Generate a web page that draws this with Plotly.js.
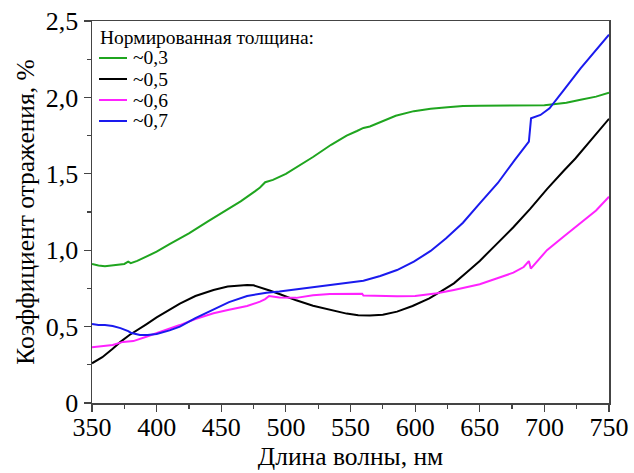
<!DOCTYPE html>
<html>
<head>
<meta charset="utf-8">
<script src="https://cdn.plot.ly/plotly-3.0.1.min.js"></script>
<style>html,body{margin:0;padding:0;background:#fff;}#chart{width:634px;height:473px;}</style>
</head>
<body>
<div id="chart"></div>
<script>
// ~0,3
var x03 = [350,355,360,365,370,375,378,380,385,390,400,410,425,440,450,465,476,480,484,490,500,510,521,535,547,555,560,565,573,585,599,612,625,637,650,670,689,700,707,717,728,740,750];
var y03 = [0.91,0.90,0.895,0.90,0.905,0.91,0.925,0.915,0.93,0.95,0.99,1.04,1.11,1.19,1.24,1.32,1.385,1.41,1.445,1.46,1.50,1.55,1.61,1.69,1.75,1.78,1.80,1.81,1.84,1.88,1.91,1.925,1.935,1.943,1.946,1.947,1.945,1.948,1.955,1.965,1.985,2.005,2.03];
// ~0,5
var x05 = [350,358,366,372,379,386,392,400,410,418,430,444,455,465,470,475,480,488,496,508,521,534,547,556,565,575,586,598,611,620,630,640,650,663,676,689,702,715,724,737,750];
var y05 = [0.26,0.30,0.355,0.40,0.445,0.48,0.515,0.56,0.61,0.65,0.70,0.74,0.762,0.772,0.773,0.77,0.757,0.735,0.71,0.672,0.637,0.61,0.585,0.575,0.572,0.578,0.598,0.635,0.685,0.73,0.783,0.855,0.93,1.04,1.15,1.27,1.40,1.52,1.60,1.73,1.86];
// ~0,6
var x06 = [350,358,366,374,382,392,405,418,430,444,456,470,480,484,487,495,508,521,534,547,559,560,572,586,600,617,630,640,650,663,676,684,688,689.5,695,702,715,728,740,750];
var y06 = [0.365,0.37,0.38,0.40,0.405,0.434,0.47,0.51,0.55,0.587,0.61,0.635,0.663,0.68,0.70,0.69,0.688,0.705,0.713,0.715,0.715,0.703,0.70,0.698,0.70,0.718,0.74,0.76,0.777,0.815,0.853,0.89,0.929,0.88,0.935,1.00,1.09,1.176,1.26,1.35];
// ~0,7
var x07 = [350,355,360,366,372,376,378,380,387,393,400,410,418,430,444,456,470,485,495,508,521,534,547,560,573,586,599,612,624,637,650,664,677,688,689.7,697,704,710,715,728,740,750];
var y07 = [0.517,0.51,0.51,0.504,0.49,0.48,0.47,0.46,0.445,0.445,0.452,0.475,0.50,0.555,0.613,0.66,0.70,0.722,0.73,0.744,0.757,0.77,0.783,0.80,0.831,0.87,0.925,0.995,1.078,1.18,1.307,1.44,1.59,1.71,1.863,1.885,1.929,1.99,2.048,2.19,2.31,2.41];

var seriesNames = ['~0,3','~0,5','~0,6','~0,7'];
var legendTitle = 'Нормированная толщина:';
var yTickVals = [0,0.5,1,1.5,2,2.5];
var yTickText = ['0','0,5','1,0','1,5','2,0','2,5'];
var xTitle = 'Длина волны, нм';
var yTitle = 'Коэффициент отражения, %';

var colors = ['#1fa51f','#000000','#ff22ff','#1a1aee'];
var xs = [x03,x05,x06,x07], ys = [y03,y05,y06,y07];
var traces = xs.map(function(x,i){
  return {x:x, y:ys[i], type:'scatter', mode:'lines', name:seriesNames[i],
          line:{color:colors[i], width:2}, showlegend:false};
});

var fontFam = 'Liberation Serif';
var legendFont = {family:fontFam, size:19.5, color:'#000'};

// custom legend (paper coordinates inside the plot area)
var plotW = 517, plotH = 382;
function px2x(p){ return p/plotW; }
function px2y(p){ return 1 - p/plotH; }
var annotations = [{
  xref:'paper', yref:'paper', x:px2x(6), y:px2y(16), xanchor:'left', yanchor:'middle',
  text:legendTitle, showarrow:false, font:legendFont
}];
var shapes = [];
seriesNames.forEach(function(n,i){
  var cy = px2y(37 + 21*i);
  shapes.push({type:'line', xref:'paper', yref:'paper', x0:px2x(7), x1:px2x(35), y0:cy, y1:cy,
               line:{color:colors[i], width:2}});
  annotations.push({xref:'paper', yref:'paper', x:px2x(39), y:cy, xanchor:'left', yanchor:'middle',
                    text:n, showarrow:false, font:legendFont});
});

var axisCommon = {
  showline:true, linecolor:'#444', linewidth:1.5, mirror:true,
  ticks:'outside', ticklen:7, tickwidth:1.2, tickcolor:'#444',
  showgrid:false, zeroline:false,
  tickfont:{family:fontFam, size:26, color:'#000'}
};
var layout = {
  width:634, height:473,
  margin:{l:92, r:25, t:21, b:70},
  paper_bgcolor:'#fff', plot_bgcolor:'#fff',
  font:{family:fontFam, color:'#000'},
  showlegend:false,
  annotations:annotations, shapes:shapes,
  xaxis: Object.assign({}, axisCommon, {
    range:[350,750], dtick:50, tick0:350, ticklabelstandoff:-7,
    minor:{dtick:25, ticklen:4, tickcolor:'#444', ticks:'outside'},
    title:{text:xTitle, font:{family:fontFam, size:25.5, color:'#000'}, standoff:2}
  }),
  yaxis: Object.assign({}, axisCommon, {
    range:[0,2.5], tickvals:yTickVals, ticktext:yTickText,
    minor:{tickvals:[0.25,0.75,1.25,1.75,2.25], ticklen:4, tickcolor:'#444', ticks:'outside'},
    title:{text:yTitle, font:{family:fontFam, size:25.5, color:'#000'}, standoff:4}
  })
};
Plotly.newPlot('chart', traces, layout, {displayModeBar:false, staticPlot:true});
</script>
</body>
</html>
